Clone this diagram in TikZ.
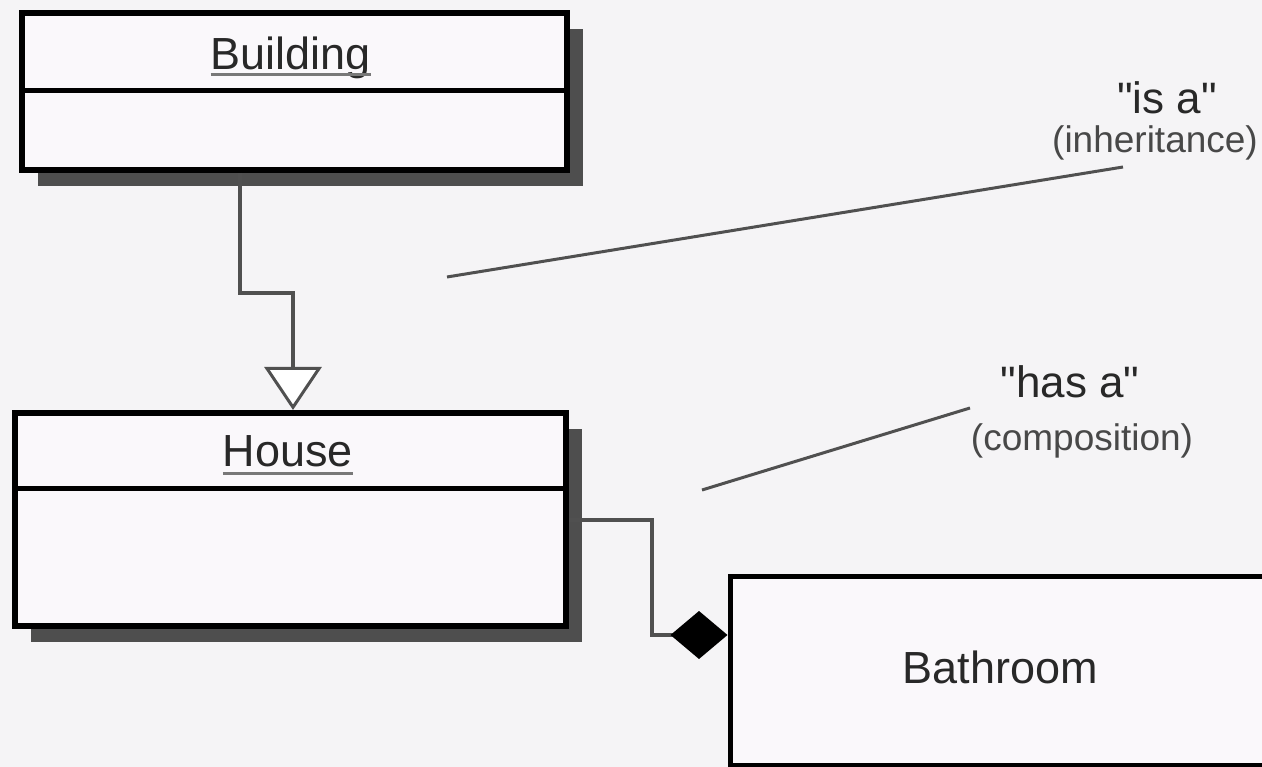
\documentclass[tikz,border=0pt]{standalone}
\usepackage{fontspec}
\setmainfont{Liberation Sans}
\usetikzlibrary{arrows.meta,shadows}
\definecolor{bgc}{RGB}{245,244,246}
\definecolor{boxc}{RGB}{250,248,251}
\definecolor{shc}{RGB}{78,78,78}
\definecolor{txt}{RGB}{40,40,40}
\definecolor{conn}{RGB}{80,80,80}
\definecolor{ulc}{RGB}{120,120,120}
\begin{document}
\begin{tikzpicture}[x=1pt,y=-1pt,
  classbox/.style={draw=black,line width=6pt,fill=boxc,inner sep=0pt},
  shadowed/.style={drop shadow={shadow xshift=16pt,shadow yshift=-16pt,fill=shc,opacity=1}},
  divider/.style={draw=black,line width=5pt},
  classname/.style={inner sep=0pt,text=txt,font=\fontsize{45}{50}\selectfont},
  uline/.style={draw=ulc,line width=3pt},
  bigquote/.style={inner sep=0pt,text=txt,font=\fontsize{44}{48}\selectfont},
  paren/.style={inner sep=0pt,text=txt!85,font=\fontsize{37}{40}\selectfont},
  conline/.style={draw=conn,line width=3.5pt},
  noteline/.style={draw=conn,line width=3pt}]
\useasboundingbox (0,0) rectangle (1262,767);
\fill[bgc] (0,0) rectangle (1262,767);

% classes
\node[classbox,shadowed,minimum width=545pt,minimum height=157pt] (Building) at (294.5,91.5) {};
\node[classbox,shadowed,minimum width=551pt,minimum height=213pt] (House) at (290.5,519.5) {};
\node[classbox,line width=5pt,minimum width=540pt,minimum height=189pt] (Bathroom) at (1000,670.5) {};

\coordinate (d1) at (0,91);
\coordinate (d2) at (0,488);
\draw[divider] (Building.west |- d1) -- (Building.east |- d1);
\draw[divider] (House.west |- d2) -- (House.east |- d2);

\node[classname,anchor=base] (BuildingName) at (291,70) {Building};
\draw[uline] ([yshift=-5pt]BuildingName.base west) -- ([yshift=-5pt]BuildingName.base east);
\node[classname,anchor=base] (HouseName) at (288,467) {House};
\draw[uline] ([yshift=-6pt]HouseName.base west) -- ([yshift=-6pt]HouseName.base east);
\node[classname] (BathroomName) at (1000,667) {Bathroom};

% inheritance
\coordinate (b1) at (240,293);
\coordinate (b2) at (293,293);
\draw[conline,-{Triangle[length=43pt,width=57pt,fill=white,line width=3pt]}]
  (Building.south -| b1) -- (b1) -- (b2) -- (House.north -| b2);

% composition
\coordinate (c1) at (652,520);
\coordinate (c2) at (652,635);
\draw[conline,-{Diamond[length=57pt,width=48pt,color=black]}]
  (House.east |- c1) -- (c1) -- (c2) -- (Bathroom.west |- c2);

% notes
\node[bigquote,anchor=base] (isa) at (1167,114) {\textquotedbl is a\textquotedbl};
\node[paren,anchor=base] (inh) at (1155,153) {(inheritance)};
\node[bigquote,anchor=base] (hasa) at (1070,398) {\textquotedbl has a\textquotedbl};
\node[paren,anchor=base] (comp) at (1082,450) {(composition)};
\coordinate (n1a) at (447,277);
\coordinate (n1b) at (1123,167);
\coordinate (n2a) at (702,490);
\coordinate (n2b) at (970,408);
\draw[noteline] (n1a) -- (n1b);
\draw[noteline] (n2a) -- (n2b);
\end{tikzpicture}
\end{document}
